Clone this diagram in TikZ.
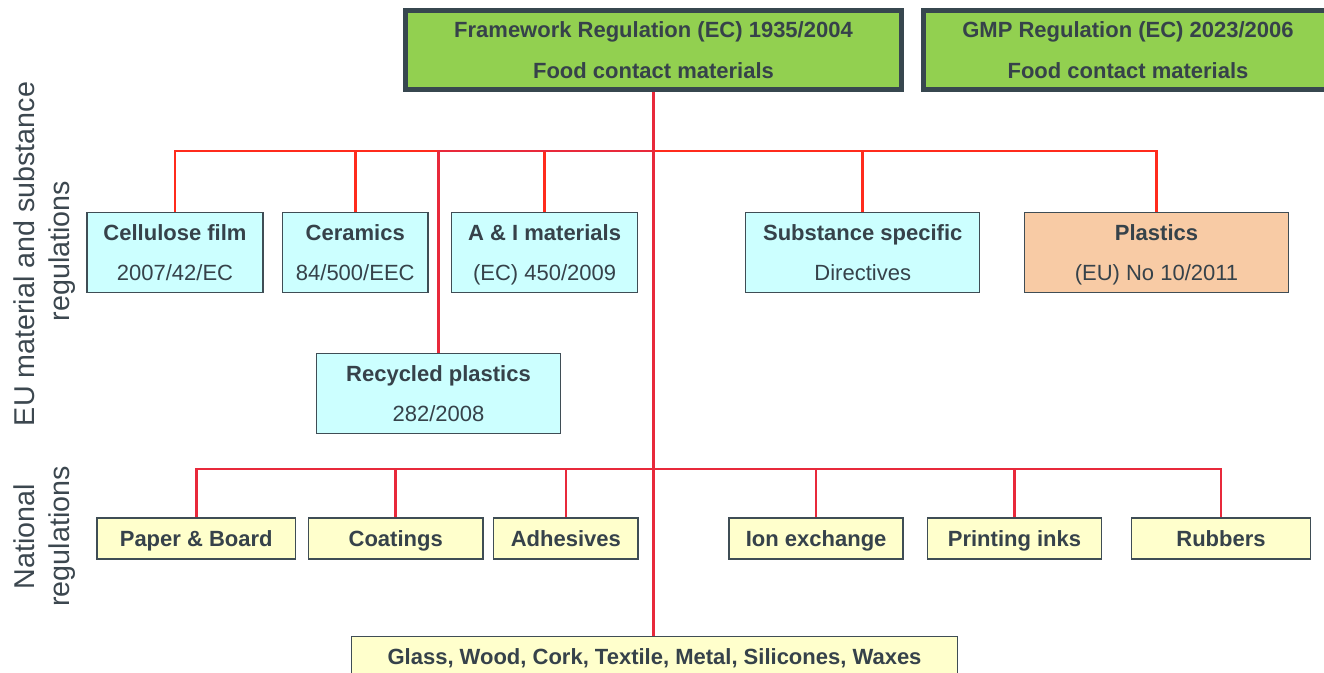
\documentclass[tikz,border=0pt]{standalone}
\usepackage{fontspec}
\setmainfont{Liberation Sans}
\usepackage{tikz}
\usetikzlibrary{calc}
\definecolor{txtgray}{HTML}{36424A}
\definecolor{boxgray}{HTML}{3F4D55}
\definecolor{framegray}{HTML}{37474F}
\definecolor{framegreen}{HTML}{92D050}
\definecolor{eucyan}{HTML}{CCFFFF}
\definecolor{plastorange}{HTML}{F8CBA5}
\definecolor{natyellow}{HTML}{FFFFCC}
\definecolor{linkred}{HTML}{E8293B}
\definecolor{topred}{HTML}{FF2B1C}
\definecolor{sidegray}{HTML}{3C474F}

\begin{document}
\begin{tikzpicture}[x=0.75pt, y=-0.75pt,
  regbox/.style={draw=boxgray, line width=1.1pt, text=txtgray, align=center, inner sep=0pt,
    font=\fontsize{16.5}{30.4}\selectfont},
  twoline/.style={regbox, minimum height=60pt, text height=42.2pt, text depth=0pt},
  oneline/.style={regbox, minimum height=31pt, text height=11.8pt, text depth=0pt},
  eubox/.style={twoline, fill=eucyan},
  natbox/.style={oneline, fill=natyellow},
  framebox/.style={twoline, draw=framegray, line width=3.75pt, fill=framegreen, minimum height=59.25pt},
  sidelabel/.style={rotate=90, anchor=base, text=sidegray, inner sep=0pt, font=\fontsize{21.5}{26}\selectfont},
  link/.style={line width=2pt, draw=linkred},
  toplink/.style={line width=2pt, draw=topred}]
  \useasboundingbox (0,0) rectangle (1324,673);

  \node[framebox, minimum width=372pt] (frame) at (653.5,50)
    {\bfseries Framework Regulation (EC) 1935/2004\\\bfseries Food contact materials};
  \node[framebox, minimum width=306.75pt] (gmp) at (1128,50)
    {\bfseries GMP Regulation (EC) 2023/2006\\\bfseries Food contact materials};

  \node[sidelabel] (eulab) at (34,254) {EU material and substance};
  \node[sidelabel] (eulabb) at (69,251) {regulations};
  \node[sidelabel] (natlab) at (34,537) {National};
  \node[sidelabel] (natlabb) at (69,536.5) {regulations};

  \node[eubox, minimum width=132pt] (cell) at (175,252.5) {\bfseries Cellulose film\\2007/42/EC};
  \node[eubox, minimum width=109pt] (ceram) at (355.25,252.5) {\bfseries Ceramics\\84/500/EEC};
  \node[eubox, minimum width=139.5pt] (ai) at (544.6,252.5) {\bfseries A \& I materials\\(EC) 450/2009};
  \node[eubox, minimum width=175.5pt] (subst) at (862.75,252.5) {\bfseries Substance specific\\Directives};
  \node[eubox, fill=plastorange, minimum width=198pt] (plast) at (1156.5,252.5) {\bfseries Plastics\\(EU) No 10/2011};
  \node[eubox, minimum width=183pt] (recyc) at (438.5,393.5) {\bfseries Recycled plastics\\282/2008};

  \node[natbox, minimum width=149pt] (paper) at (196.25,538.5) {\bfseries Paper \& Board};
  \node[natbox, minimum width=131pt] (coat) at (395.7,538.5) {\bfseries Coatings};
  \node[natbox, minimum width=108.5pt] (adh) at (565.85,538.5) {\bfseries Adhesives};
  \node[natbox, minimum width=130.5pt] (ion) at (816.15,538.5) {\bfseries Ion exchange};
  \node[natbox, minimum width=130.5pt] (print) at (1014.5,538.5) {\bfseries Printing inks};
  \node[natbox, minimum width=134pt] (rubb) at (1221,538.5) {\bfseries Rubbers};
  \node[natbox, minimum width=454.5pt, minimum height=30pt] (glass) at (654.5,656.5)
    {\bfseries Glass, Wood, Cork, Textile, Metal, Silicones, Waxes};

  \coordinate (hubeu) at (653.5,151);
  \coordinate (hubnat) at (653.5,469);

  \foreach \n in {cell, ceram, ai, subst, plast}
    \draw[toplink] (\n.north) |- (hubeu);
  \draw[link] (recyc.north) |- (hubeu);
  \draw[link] (frame.south) -- (frame.south |- glass.north);
  \foreach \n in {paper, coat, adh, ion, print, rubb}
    \draw[link] (\n.north) |- (hubnat);
\end{tikzpicture}
\end{document}
